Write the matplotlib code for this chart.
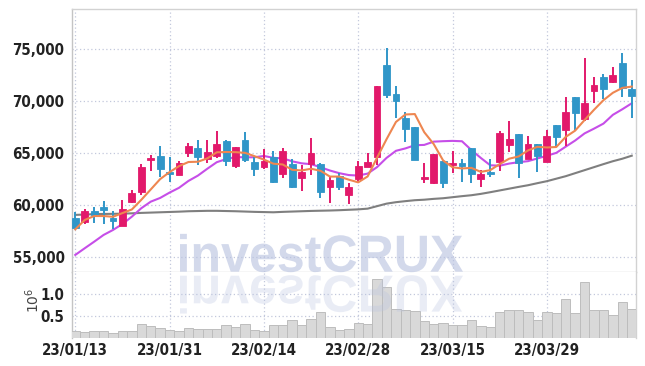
import matplotlib
matplotlib.use("Agg")
import matplotlib.pyplot as plt
import matplotlib.transforms as mtransforms
from matplotlib.textpath import TextPath
from matplotlib.patches import PathPatch
from matplotlib.font_manager import FontProperties
import numpy as np
import pandas as pd

# daily candles, 23/01/13 .. 23/04/11
opens = [58720, 58390, 59420, 59810, 58750, 57980, 60290, 61250, 64330, 64710,
         63200, 62880, 64970, 65480, 64450, 64680, 66150, 63780, 66250, 64130,
         63680, 64650, 62950, 63940, 62560, 63910, 63940, 61760, 62790, 60930,
         62470, 63680, 64650, 73460, 70670, 68400, 67500, 62530, 62140, 64230,
         63870, 64040, 65480, 62530, 63080, 64130, 65770, 66830, 64450, 65870,
         64170, 67690, 67180, 70380, 68300, 70990, 72310, 71860, 73690, 71150]
highs = [59360, 59590, 59780, 60350, 59390, 60480, 61440, 63940, 64810, 65700,
         64650, 64260, 65930, 66250, 66250, 67120, 66250, 65600, 66990, 64600,
         65380, 65220, 65450, 64420, 63850, 66440, 64000, 62720, 63050, 62080,
         64260, 64970, 71440, 75060, 71440, 68970, 67500, 64010, 64900, 64230,
         65220, 64420, 65480, 63370, 64420, 67120, 68050, 66830, 66630, 65870,
         67210, 67690, 70350, 70380, 74100, 72340, 72600, 73300, 74580, 72020]
lows = [57750, 58140, 58300, 58170, 57720, 57950, 60160, 60960, 63300, 62660,
        62240, 62850, 64650, 63850, 64010, 64550, 63780, 63590, 64150, 62790,
        63500, 62080, 62630, 61600, 61350, 62900, 60640, 60160, 61410, 60100,
        62240, 63650, 63850, 70260, 68330, 66090, 64330, 62140, 61990, 61600,
        63050, 62240, 62080, 61700, 62660, 63240, 65130, 62560, 64400, 63200,
        64100, 65610, 65710, 67210, 68110, 69780, 70160, 71700, 70350, 68330]
closes = [57810, 59450, 59040, 59550, 58490, 59590, 61180, 63680, 64520, 63490,
          62950, 64040, 65670, 64650, 65100, 65870, 64200, 65580, 64330, 63490,
          64230, 62240, 65190, 61760, 63200, 65030, 61280, 62400, 61760, 61700,
          63750, 64130, 71440, 70580, 70030, 67340, 64330, 62720, 64900, 62140,
          64040, 63780, 62980, 62980, 62980, 66960, 66350, 64070, 65870, 64740,
          66630, 66570, 68940, 68880, 69840, 71540, 71190, 72500, 71220, 70480]
volume = [0.16, 0.12, 0.14, 0.16, 0.10, 0.14, 0.14, 0.32, 0.26, 0.21,
          0.18, 0.14, 0.23, 0.19, 0.19, 0.20, 0.28, 0.24, 0.32, 0.18,
          0.16, 0.28, 0.30, 0.41, 0.30, 0.43, 0.60, 0.24, 0.17, 0.20,
          0.33, 0.31, 1.36, 1.18, 0.67, 0.64, 0.62, 0.38, 0.31, 0.33,
          0.28, 0.28, 0.41, 0.26, 0.24, 0.58, 0.64, 0.64, 0.58, 0.41,
          0.58, 0.56, 0.88, 0.56, 1.29, 0.64, 0.64, 0.51, 0.83, 0.67]

# moving averages: start values (need earlier days)
ma5_head = [57660, 58560, 58940, 58940]
ma10_head = [55200, 55840, 56470, 57120, 57600, 58170, 58880, 59690, 60320]
ma60 = [59050, 59080, 59120, 59140, 59150, 59170, 59200, 59240, 59270, 59300,
        59330, 59360, 59400, 59420, 59440, 59440, 59420, 59400, 59370, 59340,
        59320, 59300, 59340, 59370, 59400, 59430, 59450, 59470, 59500, 59540,
        59580, 59650, 59890, 60130, 60270, 60370, 60460, 60510, 60590, 60650,
        60750, 60850, 60940, 61070, 61230, 61400, 61570, 61740, 61900, 62100,
        62290, 62530, 62770, 63060, 63350, 63640, 63930, 64210, 64450, 64740]

tick_idx = [0, 10, 20, 30, 40, 50]
tick_lbl = ['23/01/13', '23/01/31', '23/02/14', '23/02/28', '23/03/15', '23/03/29']
price_ticks = [55000, 60000, 65000, 70000, 75000]

c = pd.Series(closes, dtype=float)
ma5 = c.rolling(5).mean().values
ma5[:4] = ma5_head
ma10 = c.rolling(10).mean().values
ma10[:9] = ma10_head

up_col = '#e2196b'
dn_col = '#3096c8'
grid_col = '#c3c8dc'
lbl_fp = FontProperties(family='DejaVu Sans', stretch='condensed', weight='bold', size=10.8)

W, H = 645, 366
fig = plt.figure(figsize=(W / 100, H / 100), dpi=100)
L, R = 71.5, 635.7
ax = fig.add_axes([L / W, (H - 272) / H, (R - L) / W, (272 - 9) / H])
axv = fig.add_axes([L / W, (H - 337.5) / H, (R - L) / W, (337.5 - 272) / H], sharex=ax)

x = np.arange(len(closes))
o = np.array(opens); cl = np.array(closes)
cols = [up_col if cc >= oo else dn_col for oo, cc in zip(o, cl)]
ax.vlines(x, lows, highs, colors=cols, linewidth=1.4, zorder=3)
body_h = np.maximum(np.abs(cl - o), 160)
ax.bar(x, body_h, bottom=np.minimum(o, cl), width=0.72, color=cols,
       edgecolor=cols, linewidth=0.6, zorder=4)

ax.plot(x, ma60, color='#7f7f7f', lw=1.5, zorder=2)
ax.plot(x, ma10, color='#c64ee8', lw=1.5, zorder=2)
ax.plot(x, ma5, color='#ee8650', lw=1.5, zorder=5)

axv.bar(x, volume, width=1.0, color='#d9d9d9', edgecolor='#bdbdbd',
        linewidth=0.7, zorder=3)

ax.set_xlim(-0.4, 59.42)
ax.set_ylim(53558, 78846)
axv.set_ylim(0, 1.516)

for a in (ax, axv):
    a.set_xticks(tick_idx)
    a.grid(True, color=grid_col, linestyle=(0, (1, 2)), linewidth=0.9)
    a.set_axisbelow(True)
    a.tick_params(length=0, colors='#222222')
    for s in a.spines.values():
        s.set_color('#d2d2d2')
        s.set_linewidth(1.0)

ax.set_yticks(price_ticks)
ax.set_yticklabels([f'{v:,}' for v in price_ticks], fontproperties=lbl_fp)
ax.tick_params(axis='x', labelbottom=False)
ax.tick_params(axis='y', pad=5)
ax.spines['left'].set_color('#c4c4c4')

axv.set_yticks([0.5, 1.0])
axv.set_yticklabels(['0.5', '1.0'], fontproperties=lbl_fp)
axv.set_xticklabels(tick_lbl, fontproperties=lbl_fp)
axv.tick_params(axis='y', pad=5)
axv.tick_params(axis='x', pad=4)
axv.spines['top'].set_visible(False)
axv.spines['bottom'].set_visible(False)
axv.spines['left'].set_color('#c4c4c4')

fig.text(33 / W, 1 - 300 / H, r'$10^6$', rotation=90, ha='center', va='center',
         fontsize=10, color='#444444')

# watermark with reflection
axw = fig.add_axes([0, 0, 1, 1], zorder=10)
axw.set_xlim(0, W)
axw.set_ylim(H, 0)
axw.axis('off')
fp = FontProperties(family='Liberation Sans', weight='bold')
tp = TextPath((0, 0), 'investCRUX', size=100, prop=fp)
ext = tp.get_extents()
sx = 283 / ext.width
sy = 37.4 / 71.6
t_main = mtransforms.Affine2D().translate(-ext.x0, 0).scale(sx, -sy).translate(180, 271.7)
t_refl = mtransforms.Affine2D().translate(-ext.x0, 0).scale(sx, sy).translate(180, 275.7)
axw.add_patch(PathPatch(t_main.transform_path(tp), facecolor='#b8c2e0',
                        edgecolor='none', alpha=0.62))
axw.add_patch(PathPatch(t_refl.transform_path(tp), facecolor='#b8c2e0',
                        edgecolor='none', alpha=0.3))

fig.savefig('out.png', dpi=100)
